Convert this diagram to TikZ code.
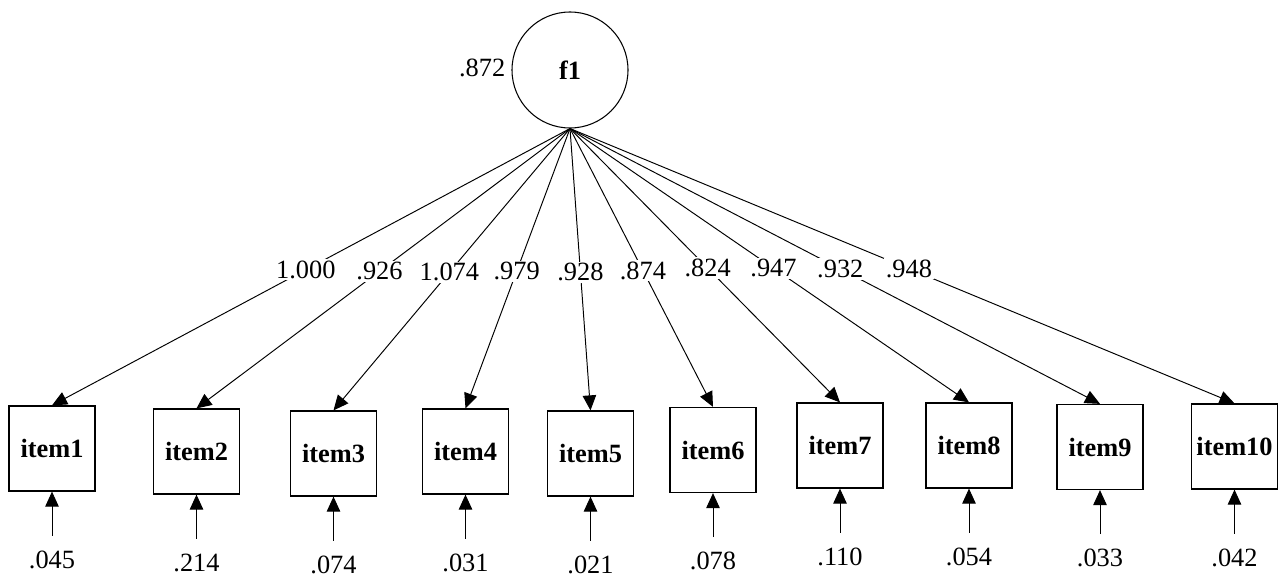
\documentclass[tikz,border=0pt]{standalone}
\usepackage{fontspec}
\setmainfont{Liberation Serif}
\usetikzlibrary{positioning,arrows.meta}

\begin{document}
\begin{tikzpicture}[
    font=\fontsize{15}{18}\selectfont,
    factor/.style={circle, draw, line width=0.6pt, minimum size=2.32cm, inner sep=0pt, font=\fontsize{15}{18}\selectfont\bfseries},
    item/.style={rectangle, draw, line width=0.7pt, minimum width=1.72cm, minimum height=1.70cm, inner sep=0pt, font=\fontsize{15}{18}\selectfont\bfseries},
    arrow/.style={-{Triangle[length=0.3cm,width=0.27cm]}, line width=0.55pt},
    load/.style={pos=0.51, fill=white, inner sep=1pt}
]
\useasboundingbox (0,0) rectangle (25.62,-11.58);

% Latent factor
\node[factor] (f1) at (11.40,-1.40) {f1};
\node[left=0pt of f1, yshift=0.04cm] (var) {.872};

% Observed items (absolute coordinates)
\node[item] (item1) at (1.04,-8.97) {item1};
\node[item] (item2) at (3.93,-9.03) {item2};
\node[item] (item3) at (6.67,-9.07) {item3};
\node[item] (item4) at (9.31,-9.03) {item4};
\node[item] (item5) at (11.81,-9.07) {item5};
\node[item] (item6) at (14.26,-9.00) {item6};
\node[item] (item7) at (16.80,-8.91) {item7};
\node[item] (item8) at (19.38,-8.91) {item8};
\node[item] (item9) at (22.00,-8.94) {item9};
\node[item] (item10) at (24.69,-8.93) {item10};

% Loadings
\draw[arrow] (f1.south) -- node[load] {1.000} (item1.north);
\draw[arrow] (f1.south) -- node[load] {.926} (item2.north);
\draw[arrow] (f1.south) -- node[load] {1.074} (item3.north);
\draw[arrow] (f1.south) -- node[load] {.979} (item4.north);
\draw[arrow] (f1.south) -- node[load] {.928} (item5.north);
\draw[arrow] (f1.south) -- node[load] {.874} (item6.north);
\draw[arrow] (f1.south) -- node[load] {.824} (item7.north);
\draw[arrow] (f1.south) -- node[load] {.947} (item8.north);
\draw[arrow] (f1.south) -- node[load] {.932} (item9.north);
\draw[arrow] (f1.south) -- node[load] {.948} (item10.north);

% Residuals below each item
\foreach \i/\r in {1/.045, 2/.214, 3/.074, 4/.031, 5/.021, 6/.078, 7/.110, 8/.054, 9/.033, 10/.042} {
    \coordinate (e\i) at ([yshift=-0.88cm]item\i.south);
    \node (r\i) at ([yshift=-1.36cm]item\i.south) {\r};
    \draw[arrow] (e\i) -- (item\i.south);
}

\end{tikzpicture}
\end{document}
